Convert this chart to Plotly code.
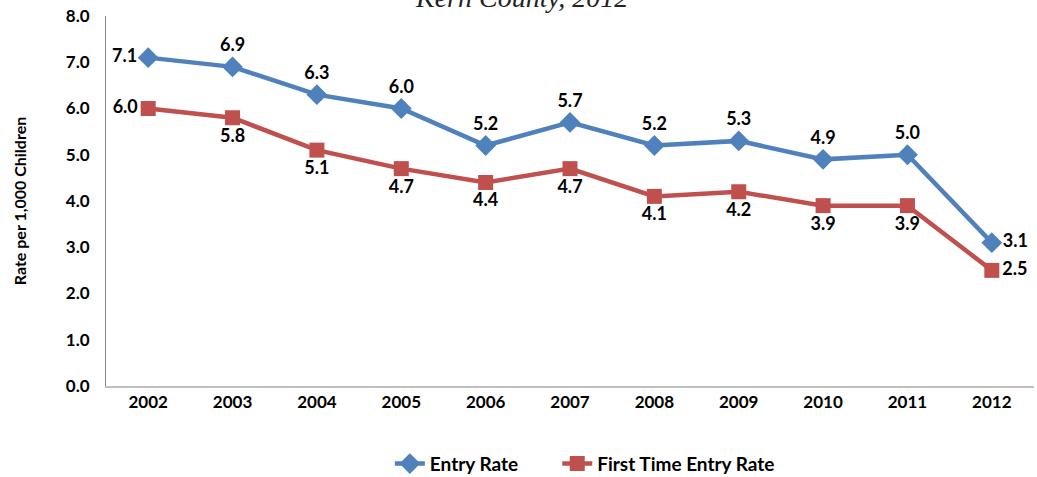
import plotly.graph_objects as go

years = ['2002', '2003', '2004', '2005', '2006', '2007', '2008', '2009', '2010', '2011', '2012']
entry_rate = [7.1, 6.9, 6.3, 6.0, 5.2, 5.7, 5.2, 5.3, 4.9, 5.0, 3.1]
first_entry_rate = [6.0, 5.8, 5.1, 4.7, 4.4, 4.7, 4.1, 4.2, 3.9, 3.9, 2.5]

blue = '#4F81BD'
red = '#C0504D'
fam = 'Lato, Open Sans, sans-serif'
lbl_font = dict(family=fam, size=18, color='#000000')

blue_pos = ['middle left'] + ['top center'] * 9 + ['middle right']
red_pos = ['middle left'] + ['bottom center'] * 9 + ['middle right']

fig = go.Figure()
fig.add_trace(go.Scatter(
    x=years, y=entry_rate, name='<b>Entry Rate</b>' + '&nbsp;' * 7, mode='lines+markers+text',
    line=dict(color=blue, width=4.5),
    marker=dict(symbol='diamond', size=16, color=blue),
    text=['%.1f' % v for v in entry_rate], textposition=blue_pos,
    textfont=lbl_font, texttemplate='<b>%{text}</b>', cliponaxis=False))
fig.add_trace(go.Scatter(
    x=years, y=first_entry_rate, name='<b>First Time Entry Rate</b>', mode='lines+markers+text',
    line=dict(color=red, width=4.5),
    marker=dict(symbol='square', size=15, color=red),
    text=['%.1f' % v for v in first_entry_rate], textposition=red_pos,
    textfont=lbl_font, texttemplate='<b>%{text}</b>', cliponaxis=False))

# chart title sits partly above the top edge, as in the source image
fig.add_annotation(
    text='<i>Kern County, 2012</i>', xref='paper', yref='paper',
    x=0.448, y=1.0, yshift=1, xanchor='center', yanchor='bottom', showarrow=False,
    font=dict(family='Liberation Serif, serif', size=28, color='#222222'))

fig.update_layout(
    width=1037, height=477,
    margin=dict(l=106, r=3, t=16, b=91, autoexpand=False),
    plot_bgcolor='white', paper_bgcolor='white',
    font=dict(family=fam, color='#000000'),
    showlegend=True,
    legend=dict(orientation='h', x=0.516, y=-0.21, xanchor='center', yanchor='middle',
                font=dict(size=19, family=fam), itemwidth=30, tracegroupgap=0),
    xaxis=dict(range=[-0.5, 10.5], showgrid=False, showline=True, linecolor='#BFBFBF',
               linewidth=2, ticks='', automargin=False, tickfont=dict(size=17, family=fam),
               tickprefix='<b>', ticksuffix='</b>'),
    yaxis=dict(range=[0, 8], dtick=1, tickformat='.1f', showgrid=False,
               showline=True, linecolor='#868686', linewidth=1, ticks='',
               zeroline=False, tickprefix='<b>', ticksuffix='</b>', automargin=False,
               ticklabelstandoff=12,
               tickfont=dict(size=17, family=fam),
               title=dict(text='<b>Rate per 1,000 Children</b>', standoff=35,
                          font=dict(size=16, family=fam))),
)

fig.write_html('out.html', config={'displayModeBar': False},
               post_script="document.body.style.margin='0';")
